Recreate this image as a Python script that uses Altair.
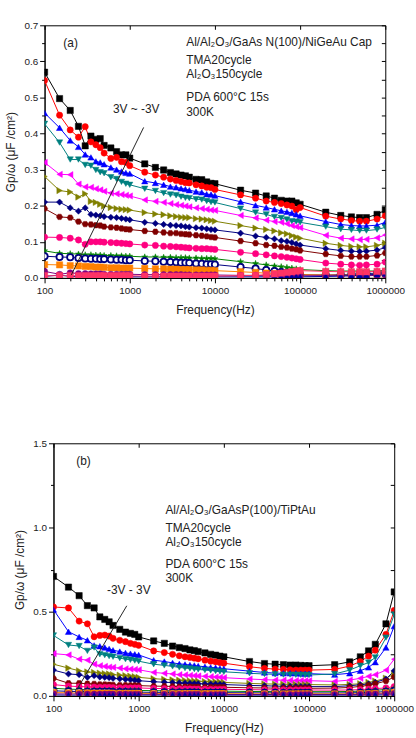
import altair as alt
import pandas as pd

FONT = "Liberation Sans"

FREQ = [100, 150, 200, 250, 300, 350, 400, 450, 500, 600, 700, 800, 900, 1000,
        1500, 2000, 2500, 3000, 3500, 4000, 4500, 5000, 6000, 7000, 8000, 9000, 10000,
        20000, 30000, 40000, 50000, 60000, 70000, 80000, 90000, 100000,
        200000, 300000, 400000, 500000, 600000, 800000, 1000000]

# ---- panel (a) series ----
A01 = [0.570,0.497,0.464,0.420,0.366,0.393,0.384,0.386,0.367,0.360,0.350,0.341,0.341,0.332,
       0.316,0.306,0.299,0.292,0.288,0.285,0.283,0.279,0.273,0.272,0.266,0.262,0.261,
       0.243,0.235,0.227,0.221,0.215,0.213,0.213,0.208,0.204,
       0.182,0.173,0.169,0.167,0.167,0.176,0.188]
A02 = [0.547,0.451,0.410,0.390,0.419,0.377,0.369,0.361,0.346,0.331,0.334,0.322,0.320,0.311,
       0.293,0.285,0.279,0.274,0.270,0.267,0.264,0.263,0.258,0.255,0.251,0.250,0.245,
       0.230,0.221,0.213,0.209,0.206,0.202,0.199,0.189,0.195,
       0.171,0.163,0.159,0.157,0.157,0.163,0.172]
A03 = [0.457,0.416,0.381,0.363,0.342,0.334,0.323,0.320,0.315,0.306,0.300,0.295,0.291,0.289,
       0.268,0.263,0.258,0.253,0.251,0.248,0.246,0.243,0.239,0.237,0.232,0.231,0.228,
       0.211,0.201,0.195,0.190,0.186,0.183,0.180,0.176,0.172,
       0.156,0.148,0.145,0.144,0.144,0.146,0.154]
A04 = [0.427,0.375,0.328,0.328,0.313,0.311,0.299,0.293,0.290,0.279,0.274,0.266,0.261,0.258,
       0.247,0.241,0.235,0.231,0.229,0.225,0.222,0.221,0.218,0.217,0.213,0.210,0.209,
       0.192,0.181,0.176,0.169,0.166,0.162,0.157,0.156,0.154,
       0.142,0.135,0.133,0.131,0.131,0.134,0.140]
A05 = [0.320,0.287,0.286,0.260,0.252,0.251,0.247,0.244,0.240,0.235,0.233,0.231,0.229,0.227,
       0.216,0.212,0.209,0.206,0.203,0.201,0.199,0.197,0.194,0.192,0.190,0.188,0.187,
       0.173,0.166,0.160,0.156,0.154,0.150,0.145,0.142,0.139,
       0.118,0.110,0.108,0.106,0.107,0.111,0.119]
A06 = [0.281,0.242,0.238,0.224,0.233,0.212,0.209,0.204,0.199,0.195,0.192,0.190,0.189,0.188,
       0.181,0.177,0.175,0.172,0.170,0.168,0.167,0.167,0.164,0.163,0.161,0.159,0.157,
       0.145,0.138,0.134,0.130,0.125,0.122,0.117,0.113,0.110,
       0.096,0.090,0.087,0.086,0.086,0.090,0.096]
A07 = [0.210,0.210,0.194,0.185,0.194,0.176,0.174,0.172,0.170,0.168,0.167,0.165,0.163,0.161,
       0.154,0.151,0.148,0.146,0.145,0.144,0.142,0.141,0.139,0.138,0.136,0.134,0.133,
       0.124,0.116,0.112,0.108,0.103,0.101,0.098,0.094,0.091,
       0.081,0.076,0.074,0.073,0.074,0.077,0.084]
A08 = [0.192,0.169,0.167,0.156,0.149,0.148,0.146,0.145,0.142,0.140,0.139,0.137,0.135,0.134,
       0.130,0.128,0.126,0.124,0.124,0.122,0.121,0.120,0.118,0.117,0.115,0.113,0.112,
       0.102,0.096,0.091,0.089,0.086,0.084,0.081,0.079,0.076,
       0.066,0.061,0.059,0.059,0.059,0.062,0.069]
A09 = [0.113,0.112,0.110,0.105,0.093,0.100,0.100,0.100,0.099,0.098,0.097,0.096,0.095,0.094,
       0.091,0.090,0.088,0.087,0.086,0.085,0.084,0.083,0.082,0.081,0.081,0.080,0.079,
       0.071,0.067,0.064,0.061,0.059,0.057,0.055,0.053,0.051,
       0.041,0.038,0.036,0.035,0.036,0.038,0.044]
A10 = [0.075,0.068,0.067,0.066,0.064,0.064,0.063,0.063,0.062,0.062,0.061,0.061,0.060,0.060,
       0.058,0.058,0.057,0.057,0.056,0.056,0.056,0.055,0.055,0.054,0.054,0.054,0.053,
       0.045,0.040,0.036,0.033,0.031,0.029,0.027,0.025,0.023,
       0.020,0.019,0.019,0.019,0.019,0.019,0.021]
A11 = [0.060,0.058,0.057,0.055,0.054,0.053,0.053,0.052,0.052,0.051,0.050,0.050,0.049,0.049,
       0.047,0.046,0.045,0.044,0.043,0.042,0.042,0.041,0.040,0.039,0.038,0.038,0.037,
       0.030,0.026,0.022,0.019,0.016,0.014,0.012,0.010,0.009,
       0.008,0.009,0.010,0.011,0.012,0.013,0.014]
A12 = [0.037,0.036,0.034,0.033,0.032,0.031,0.030,0.030,0.029,0.028,0.028,0.027,0.027,0.027,
       0.026,0.025,0.025,0.024,0.024,0.023,0.023,0.023,0.022,0.022,0.021,0.021,0.020,
       0.017,0.015,0.013,0.012,0.011,0.010,0.010,0.009,0.009,
       0.008,0.008,0.008,0.009,0.009,0.010,0.011]
A13 = [0.018,0.010,0.014,0.012,0.012,0.011,0.011,0.011,0.010,0.010,0.010,0.010,0.010,0.010,
       0.009,0.009,0.009,0.009,0.009,0.009,0.008,0.008,0.008,0.008,0.008,0.008,0.008,
       0.007,0.007,0.006,0.006,0.006,0.006,0.006,0.006,0.006,
       0.006,0.006,0.006,0.006,0.006,0.007,0.008]
A14 = [0.004,0.008,0.004,0.004,0.004,0.003,0.003,0.003,0.003,0.003,0.003,0.003,0.003,0.003,
       0.003,0.003,0.003,0.003,0.003,0.003,0.003,0.003,0.003,0.003,0.003,0.003,0.003,
       0.003,0.003,0.003,0.003,0.003,0.003,0.003,0.003,0.003,
       0.004,0.005,0.006,0.007,0.008,0.010,0.012]
A15 = [0.006,0.006,0.006,0.006,0.006,0.006,0.006,0.006,0.006,0.006,0.006,0.006,0.006,0.006,
       0.005,0.005,0.005,0.005,0.005,0.005,0.005,0.005,0.005,0.005,0.005,0.005,0.005,
       0.006,0.007,0.009,0.011,0.013,0.015,0.017,0.019,0.020,
       0.018,0.017,0.017,0.017,0.017,0.018,0.019]

# ---- panel (b) series ----
B01 = [0.709,0.646,0.595,0.536,0.522,0.469,0.454,0.440,0.418,0.395,0.379,0.371,0.365,0.350,
       0.326,0.312,0.296,0.287,0.281,0.273,0.269,0.263,0.255,0.247,0.242,0.236,0.232,
       0.204,0.192,0.188,0.185,0.183,0.183,0.181,0.179,0.179,
       0.185,0.202,0.232,0.267,0.306,0.428,0.617]
B02 = [0.528,0.522,0.444,0.428,0.351,0.359,0.361,0.355,0.342,0.330,0.322,0.312,0.306,0.300,
       0.267,0.257,0.247,0.238,0.232,0.228,0.224,0.220,0.212,0.206,0.202,0.198,0.194,
       0.173,0.163,0.159,0.157,0.155,0.153,0.153,0.153,0.153,
       0.157,0.177,0.204,0.236,0.271,0.365,0.507]
B03 = [0.512,0.381,0.350,0.330,0.300,0.295,0.287,0.279,0.271,0.263,0.255,0.251,0.247,0.243,
       0.212,0.204,0.196,0.190,0.187,0.183,0.181,0.177,0.173,0.169,0.167,0.163,0.161,
       0.147,0.139,0.135,0.134,0.134,0.134,0.132,0.132,0.132,
       0.126,0.134,0.149,0.169,0.200,0.287,0.414]
B04 = [0.359,0.302,0.296,0.267,0.287,0.247,0.242,0.236,0.232,0.224,0.218,0.214,0.210,0.206,
       0.188,0.181,0.175,0.169,0.165,0.163,0.159,0.157,0.153,0.151,0.147,0.145,0.143,
       0.134,0.130,0.128,0.126,0.126,0.125,0.125,0.124,0.124,
       0.130,0.153,0.179,0.198,0.228,0.346,0.483]
B05 = [0.251,0.243,0.218,0.212,0.188,0.179,0.175,0.171,0.169,0.165,0.161,0.159,0.157,0.155,
       0.139,0.134,0.130,0.126,0.124,0.122,0.120,0.118,0.116,0.114,0.112,0.110,0.108,
       0.100,0.096,0.094,0.093,0.092,0.091,0.091,0.090,0.090,
       0.086,0.094,0.104,0.116,0.126,0.153,0.218]
B06 = [0.188,0.165,0.149,0.142,0.139,0.135,0.132,0.130,0.126,0.123,0.120,0.117,0.114,0.110,
       0.102,0.098,0.095,0.093,0.091,0.089,0.088,0.087,0.085,0.084,0.083,0.082,0.080,
       0.074,0.071,0.070,0.069,0.068,0.068,0.067,0.067,0.067,
       0.065,0.068,0.072,0.080,0.088,0.105,0.130]
B07 = [0.153,0.130,0.126,0.110,0.120,0.112,0.110,0.108,0.104,0.101,0.098,0.096,0.093,0.090,
       0.084,0.081,0.079,0.077,0.075,0.074,0.073,0.072,0.071,0.070,0.069,0.068,0.067,
       0.062,0.060,0.058,0.057,0.056,0.056,0.055,0.055,0.055,
       0.055,0.060,0.066,0.071,0.080,0.100,0.149]
B08 = [0.104,0.075,0.075,0.072,0.071,0.068,0.067,0.066,0.065,0.064,0.063,0.062,0.062,0.061,
       0.058,0.057,0.056,0.055,0.054,0.054,0.053,0.053,0.052,0.052,0.051,0.051,0.051,
       0.048,0.047,0.046,0.046,0.045,0.045,0.045,0.045,0.045,
       0.046,0.050,0.056,0.063,0.072,0.088,0.112]
B09 = [0.067,0.058,0.055,0.054,0.052,0.051,0.050,0.050,0.049,0.048,0.048,0.047,0.047,0.047,
       0.044,0.043,0.042,0.042,0.041,0.041,0.040,0.040,0.040,0.039,0.039,0.039,0.039,
       0.037,0.036,0.036,0.035,0.035,0.035,0.035,0.035,0.035,
       0.034,0.035,0.037,0.040,0.043,0.047,0.055]
B10 = [0.045,0.040,0.038,0.037,0.036,0.035,0.035,0.034,0.034,0.033,0.033,0.033,0.032,0.032,
       0.031,0.030,0.030,0.030,0.029,0.029,0.029,0.029,0.028,0.028,0.028,0.028,0.028,
       0.026,0.026,0.025,0.025,0.025,0.025,0.025,0.025,0.025,
       0.025,0.026,0.028,0.030,0.033,0.038,0.045]
B11 = [0.030,0.027,0.026,0.025,0.025,0.024,0.024,0.024,0.023,0.023,0.023,0.022,0.022,0.022,
       0.021,0.021,0.020,0.020,0.020,0.020,0.020,0.019,0.019,0.019,0.019,0.019,0.019,
       0.018,0.018,0.018,0.017,0.017,0.017,0.017,0.017,0.017,
       0.017,0.018,0.019,0.020,0.022,0.025,0.030]
B12 = [0.020,0.018,0.017,0.017,0.016,0.016,0.016,0.016,0.015,0.015,0.015,0.015,0.015,0.015,
       0.014,0.014,0.014,0.014,0.014,0.013,0.013,0.013,0.013,0.013,0.013,0.013,0.013,
       0.012,0.012,0.012,0.012,0.012,0.012,0.012,0.012,0.012,
       0.012,0.012,0.013,0.014,0.015,0.017,0.020]
B13 = [0.012,0.011,0.011,0.010,0.010,0.010,0.010,0.010,0.010,0.010,0.010,0.009,0.009,0.009,
       0.009,0.009,0.009,0.009,0.009,0.009,0.009,0.009,0.008,0.008,0.008,0.008,0.008,
       0.008,0.008,0.008,0.008,0.008,0.008,0.008,0.008,0.008,
       0.008,0.008,0.009,0.010,0.011,0.012,0.014]
B14 = [0.005,0.004,0.004,0.004,0.004,0.004,0.004,0.004,0.004,0.004,0.004,0.004,0.004,0.004,
       0.004,0.004,0.004,0.004,0.004,0.004,0.004,0.004,0.004,0.004,0.004,0.004,0.004,
       0.004,0.004,0.004,0.004,0.004,0.004,0.004,0.004,0.004,
       0.004,0.004,0.004,0.005,0.005,0.006,0.007]

SERIES = ["s01","s02","s03","s04","s05","s06","s07","s08","s09","s10","s11","s12","s13","s14","s15"]
COLORS = ["#000000","#FF0000","#0000FF","#008080","#FF00FF","#808000","#000080","#800000",
          "#FF0080","#008000","#000080","#FF8000","#800080","#0000A0","#FF3366"]
FILLS = ["#000000","#FF0000","#0000FF","#008080","#FF00FF","#808000","#000080","#800000",
         "#FF0080","#008000","#FFFFFF","#FF8000","#800080","#0000A0","#FF3366"]
HEX = "M-1,0L-0.5,-0.866L0.5,-0.866L1,0L0.5,0.866L-0.5,0.866Z"
STAR = ("M0,-1L0.235,-0.324L0.951,-0.309L0.38,0.124L0.588,0.809L0,0.4L-0.588,0.809"
        "L-0.38,0.124L-0.951,-0.309L-0.235,-0.324Z")
SHAPES = ["square","circle","triangle-up","triangle-down","triangle-left","triangle-right",
          "diamond",HEX,"circle",STAR,"circle","square","circle","triangle-up","square"]

X_MAJOR = [100, 1000, 10000, 100000, 1000000]
X_MINOR = [200,300,400,500,600,700,800,900,2000,3000,4000,5000,6000,7000,8000,9000,
           20000,30000,40000,50000,60000,70000,80000,90000,
           200000,300000,400000,500000,600000,700000,800000,900000]

A_Y_MAJOR = [0.0, 0.1, 0.2, 0.3, 0.4, 0.5, 0.6, 0.7]
A_Y_MINOR = [0.05, 0.15, 0.25, 0.35, 0.45, 0.55, 0.65]
B_Y_MAJOR = [0.0, 0.5, 1.0, 1.5]
B_Y_MINOR = [0.25, 0.75, 1.25]

A_NOTES_T = ["(a)", "Al/Al\u2082O\u2083/GaAs N(100)/NiGeAu Cap", "TMA20cycle",
             "Al\u2082O\u2083150cycle", "PDA 600\u00b0C 15s", "300K", "3V ~ -3V"]
A_NOTES_X = [166, 4600, 4600, 4600, 4600, 4600, 634]
A_NOTES_Y = [0.650, 0.653, 0.604, 0.565, 0.502, 0.461, 0.467]
A_ARROW = {"x1": [1455], "y1": [0.417], "x2": [206], "y2": [0.008]}

B_NOTES_T = ["(b)", "Al/Al\u2082O\u2083/GaAsP(100)/TiPtAu", "TMA20cycle",
             "Al\u2082O\u2083150cycle", "PDA 600\u00b0C 15s", "300K", "-3V - 3V"]
B_NOTES_X = [185, 2060, 2060, 2060, 2060, 2060, 425]
B_NOTES_Y = [1.394, 1.106, 0.994, 0.912, 0.782, 0.700, 0.629]
B_ARROW = {"x1": [725], "y1": [0.535], "x2": [190], "y2": [0.041]}

YTITLE = "Gp/\u03c9 (\u03bcF /cm\u00b2)"


def long_df(names, lists):
    rows = []
    for n, vals in zip(names, lists):
        for f, v in zip(FREQ, vals):
            rows.append({"f": f, "v": v, "s": n})
    return pd.DataFrame(rows)


def panel(df, ymax, ymajor, yminor, notes_t, notes_x, notes_y, arrow):
    xs = alt.Scale(type="log", domain=[100, 1000000], nice=False)
    ys = alt.Scale(domain=[0, ymax], nice=False, zero=True)
    base = alt.Chart(df)
    lines = base.mark_line(strokeWidth=1, clip=True).encode(
        x=alt.X("f:Q", scale=xs, axis=alt.Axis(orient="bottom", values=X_MINOR, labels=False,
                                              domain=False, tickSize=3, grid=False, title=None)),
        y=alt.Y("v:Q", scale=ys, axis=alt.Axis(orient="left", values=yminor, labels=False,
                                              domain=False, tickSize=3, grid=False, title=None)),
        color=alt.Color("s:N", scale=alt.Scale(domain=SERIES, range=COLORS), legend=None),
    )
    pts = base.mark_point(filled=True, size=40, opacity=1, clip=True).encode(
        x=alt.X("f:Q", scale=xs, axis=alt.Axis(orient="bottom", values=X_MAJOR, format="d",
                                              labelFlush=False, labelOverlap=False, tickSize=5,
                                              labelPadding=3, grid=False, title="Frequency(Hz)",
                                              titlePadding=9)),
        y=alt.Y("v:Q", scale=ys, axis=alt.Axis(orient="left", values=ymajor, format=".1f",
                                              tickSize=5, labelPadding=2, grid=False,
                                              title=YTITLE, titlePadding=6)),
        shape=alt.Shape("s:N", scale=alt.Scale(domain=SERIES, range=SHAPES), legend=None),
        fill=alt.Fill("s:N", scale=alt.Scale(domain=SERIES, range=FILLS), legend=None),
        stroke=alt.Stroke("s:N", scale=alt.Scale(domain=SERIES, range=COLORS), legend=None),
        strokeWidth=alt.condition(alt.datum.s == "s11", alt.value(1.8), alt.value(0.5)),
    )
    notes = alt.Chart(pd.DataFrame({"x": notes_x, "y": notes_y, "t": notes_t})).mark_text(
        align="left", baseline="middle", fontSize=12, font=FONT, color="#222222"
    ).encode(
        x=alt.X("x:Q", scale=xs, axis=alt.Axis(orient="top", values=X_MAJOR, labels=False,
                                              domain=False, tickSize=4, offset=-4, grid=False,
                                              title=None)),
        y=alt.Y("y:Q", scale=ys, axis=alt.Axis(orient="right", values=ymajor + yminor,
                                              labels=False, domain=False, tickSize=4, offset=-4,
                                              grid=False, title=None)),
        text="t:N",
    )
    arr = alt.Chart(pd.DataFrame(arrow)).mark_rule(color="#222222", strokeWidth=1).encode(
        x=alt.X("x1:Q", scale=xs, axis=None),
        y=alt.Y("y1:Q", scale=ys, axis=None),
        x2="x2:Q",
        y2="y2:Q",
    )
    return alt.layer(lines, pts, notes, arr).resolve_axis(
        x="independent", y="independent").properties(width=344, height=255)


def spacer(w):
    return alt.Chart(pd.DataFrame({"k": [0]})).mark_rule(strokeOpacity=0).encode(
        x=alt.value(0), x2=alt.value(1), y=alt.value(0)
    ).properties(width=w, height=1, view=alt.ViewBackground(stroke="transparent"))


dfa = long_df(SERIES, [A01, A02, A03, A04, A05, A06, A07, A08, A09, A10, A11, A12, A13, A14, A15])
dfb = long_df(SERIES[:14], [B01, B02, B03, B04, B05, B06, B07, B08, B09, B10, B11, B12, B13, B14])

pa = panel(dfa, 0.7, A_Y_MAJOR, A_Y_MINOR, A_NOTES_T, A_NOTES_X, A_NOTES_Y, A_ARROW)
pb = panel(dfb, 1.5, B_Y_MAJOR, B_Y_MINOR, B_NOTES_T, B_NOTES_X, B_NOTES_Y, B_ARROW)

row_a = alt.hconcat(spacer(1), pa, spacing=0)
row_b = alt.hconcat(spacer(10), pb, spacing=0)

chart = alt.vconcat(row_a, row_b, spacing=122).properties(
    padding={"left": 1, "top": 16, "right": 2, "bottom": 2},
    background="white",
).configure_view(stroke="black", strokeWidth=1).configure_axis(
    labelFont=FONT, titleFont=FONT, labelFontSize=10, titleFontSize=12,
    titleFontWeight="normal", labelColor="#222222", titleColor="#222222",
    tickColor="black", domainColor="black", tickWidth=1, domainWidth=1,
)

chart.save("out.html", embed_options={"renderer": "svg", "actions": False})
